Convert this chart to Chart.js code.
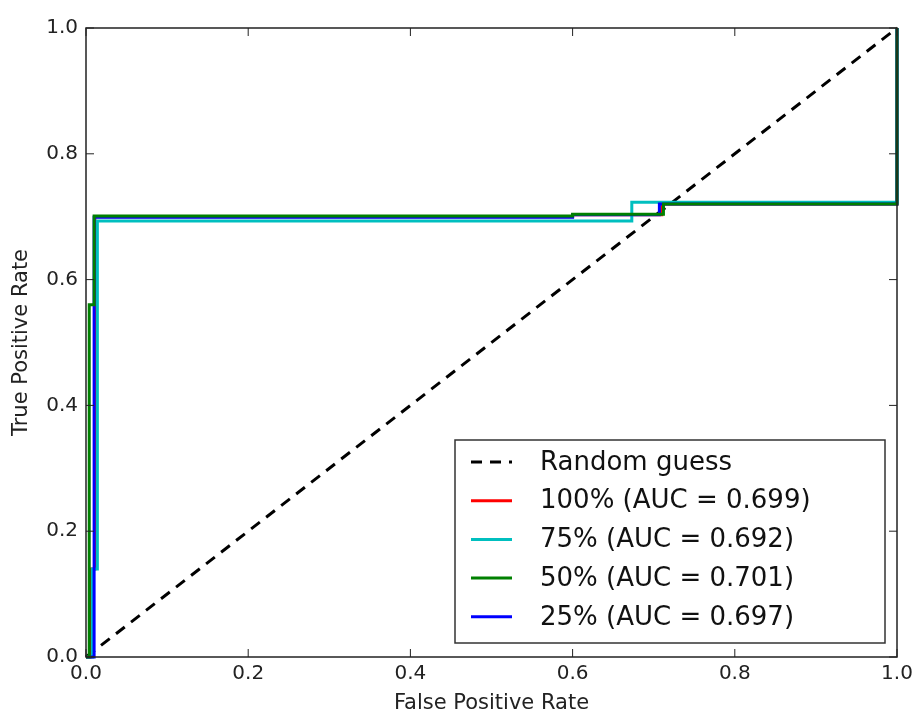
<!DOCTYPE html>
<html>
<head>
<meta charset="utf-8">
<script src="https://cdn.jsdelivr.net/npm/chart.js@4.4.1/dist/chart.umd.min.js"></script>
<style>
  body { margin: 0; background: #fff; }
  #wrap { width: 913px; height: 716px; }
</style>
</head>
<body>
<div id="wrap"><canvas id="roc"></canvas></div>
<script>
// values
var guessFpr = [0, 1];
var guessTpr = [0, 1];

var fpr100 = [0, 0.006, 0.006, 0.011, 0.011, 0.60, 0.60, 0.71, 0.71, 1, 1];
var tpr100 = [0, 0, 0.14, 0.14, 0.70, 0.70, 0.703, 0.703, 0.72, 0.72, 1];

var fpr75 = [0, 0.008, 0.008, 0.014, 0.014, 0.673, 0.673, 1, 1];
var tpr75 = [0, 0, 0.14, 0.14, 0.693, 0.693, 0.723, 0.723, 1];

var fpr50 = [0, 0.004, 0.004, 0.010, 0.010, 0.60, 0.60, 0.712, 0.712, 1, 1];
var tpr50 = [0, 0, 0.56, 0.56, 0.701, 0.701, 0.704, 0.704, 0.72, 0.72, 1];

var fpr25 = [0, 0.010, 0.010, 0.60, 0.60, 0.707, 0.707, 1, 1];
var tpr25 = [0, 0, 0.699, 0.699, 0.703, 0.703, 0.72, 0.72, 1];

var labels = ['Random guess', '100% (AUC = 0.699)', '75% (AUC = 0.692)', '50% (AUC = 0.701)', '25% (AUC = 0.697)'];
var tickValues = [0, 0.2, 0.4, 0.6, 0.8, 1.0];

function pts(xs, ys) {
  return xs.map(function (x, i) { return { x: x, y: ys[i] }; });
}

var FONT = 'DejaVu Sans';

// frame, inward ticks and the legend box, matplotlib classic look
var framePlugin = {
  id: 'frame',
  afterDraw: function (chart) {
    var ctx = chart.ctx;
    var a = chart.chartArea;
    var xs = chart.scales.x, ys = chart.scales.y;
    ctx.save();
    ctx.strokeStyle = '#222';
    ctx.lineWidth = 1.5;
    ctx.strokeRect(a.left, a.top, a.right - a.left, a.bottom - a.top);
    ctx.lineWidth = 1;
    tickValues.forEach(function (v) {
      var px = xs.getPixelForValue(v);
      var py = ys.getPixelForValue(v);
      ctx.beginPath();
      ctx.moveTo(px, a.bottom); ctx.lineTo(px, a.bottom - 8);
      ctx.moveTo(px, a.top); ctx.lineTo(px, a.top + 8);
      ctx.moveTo(a.left, py); ctx.lineTo(a.left + 8, py);
      ctx.moveTo(a.right, py); ctx.lineTo(a.right - 8, py);
      ctx.stroke();
    });

    // legend
    var w = 430, h = 203;
    var right = a.right - 12, bottom = a.bottom - 14;
    var left = right - w, top = bottom - h;
    ctx.fillStyle = '#fff';
    ctx.fillRect(left, top, w, h);
    ctx.strokeStyle = '#333';
    ctx.lineWidth = 1.5;
    ctx.strokeRect(left, top, w, h);
    ctx.font = '26px "' + FONT + '"';
    ctx.textBaseline = 'middle';
    chart.data.datasets.forEach(function (ds, i) {
      var cy = top + 22 + i * 38.7;
      ctx.beginPath();
      ctx.strokeStyle = ds.borderColor;
      ctx.lineWidth = 3;
      ctx.setLineDash(ds.borderDash || []);
      ctx.moveTo(left + 16, cy);
      ctx.lineTo(left + 57, cy);
      ctx.stroke();
      ctx.setLineDash([]);
      ctx.fillStyle = '#111';
      ctx.fillText(ds.label, left + 85, cy + 1);
    });
    ctx.restore();
  }
};

var rocChart = new Chart(document.getElementById('roc'), {
  type: 'scatter',
  data: {
    datasets: [
      { label: labels[0], data: pts(guessFpr, guessTpr), borderColor: '#000', borderDash: [11, 8], order: 5 },
      { label: labels[1], data: pts(fpr100, tpr100), borderColor: '#ff0000', order: 4 },
      { label: labels[2], data: pts(fpr75, tpr75), borderColor: '#00bfbf', order: 3 },
      { label: labels[3], data: pts(fpr50, tpr50), borderColor: '#008000', order: 1 },
      { label: labels[4], data: pts(fpr25, tpr25), borderColor: '#0000ff', order: 2 }
    ]
  },
  options: {
    responsive: true,
    maintainAspectRatio: false,
    animation: false,
    layout: { padding: { top: 28, right: 16, left: 0, bottom: 0 } },
    elements: {
      line: { borderWidth: 3, tension: 0, fill: false },
      point: { radius: 0, hoverRadius: 0 }
    },
    datasets: { scatter: { showLine: true, clip: 3 } },
    plugins: {
      legend: { display: false },
      tooltip: { enabled: false }
    },
    scales: {
      x: {
        type: 'linear', min: 0, max: 1,
        grid: { display: false, drawTicks: false },
        border: { display: false },
        afterFit: function (s) { s.height = 59; s.paddingLeft = 0; s.paddingRight = 0; },
        ticks: {
          stepSize: 0.2, padding: 5, color: '#222',
          font: { family: FONT, size: 20 },
          callback: function (v) { return v.toFixed(1); }
        },
        title: {
          display: true, text: 'False Positive Rate', color: '#222',
          font: { family: FONT, size: 21 }, padding: { top: 0, bottom: 0 }
        }
      },
      y: {
        type: 'linear', min: 0, max: 1,
        grid: { display: false, drawTicks: false },
        border: { display: false },
        afterFit: function (s) { s.width = 86; },
        ticks: {
          stepSize: 0.2, padding: 8, color: '#222',
          font: { family: FONT, size: 20 },
          callback: function (v) { return v.toFixed(1); }
        },
        title: {
          display: true, text: 'True Positive Rate', color: '#222',
          font: { family: FONT, size: 21 }, padding: { top: 9, bottom: 0 }
        }
      }
    }
  },
  plugins: [framePlugin]
});
</script>
</body>
</html>
